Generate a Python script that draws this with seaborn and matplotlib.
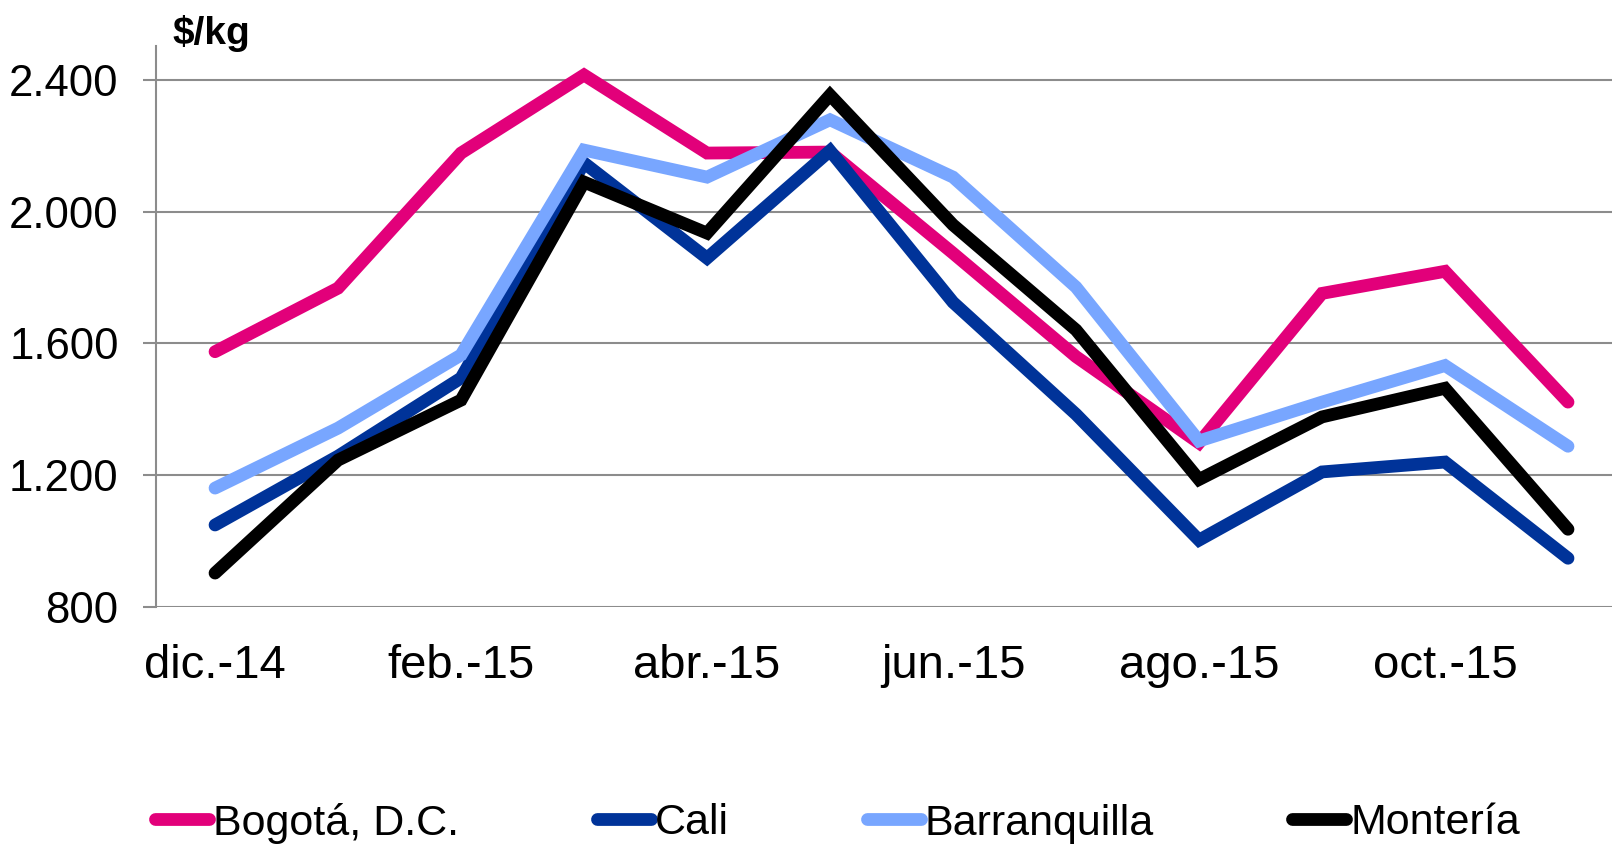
import seaborn as sns
import matplotlib.pyplot as plt
import pandas as pd

# datos ($/kg)
meses = ['dic.-14', 'ene.-15', 'feb.-15', 'mar.-15', 'abr.-15', 'may.-15',
         'jun.-15', 'jul.-15', 'ago.-15', 'sep.-15', 'oct.-15', 'nov.-15']
bogota = [1575, 1768, 2178, 2415, 2178, 2181, 1874, 1560, 1298, 1752, 1819, 1422]
cali = [1049, 1258, 1495, 2148, 1859, 2185, 1725, 1385, 1003, 1210, 1240, 948]
barranquilla = [1161, 1343, 1565, 2187, 2105, 2279, 2105, 1771, 1304, 1422, 1533, 1288]
monteria = [903, 1246, 1428, 2090, 1935, 2354, 1960, 1641, 1187, 1377, 1464, 1036]

ciudades = ['Bogotá, D.C.', 'Cali', 'Barranquilla', 'Montería']
colores = ['#E2007A', '#003399', '#78A6FF', '#000000']

xtick_pos = [0, 2, 4, 6, 8, 10]
xtick_labels = ['dic.-14', 'feb.-15', 'abr.-15', 'jun.-15', 'ago.-15', 'oct.-15']
ytick_vals = [800, 1200, 1600, 2000, 2400]
ytick_labels = ['800', '1.200', '1.600', '2.000', '2.400']

df = pd.DataFrame({
    'mes': meses * 4,
    'idx': list(range(len(meses))) * 4,
    'precio': bogota + cali + barranquilla + monteria,
    'ciudad': sum([[c] * len(meses) for c in ciudades], []),
})

sns.set_style('white')
plt.rcParams['font.family'] = ['Liberation Sans', 'DejaVu Sans']
plt.rcParams['text.color'] = 'black'
plt.rcParams['xtick.color'] = 'black'
plt.rcParams['ytick.color'] = 'black'

fig = plt.figure(figsize=(16.12, 8.44), dpi=100)
W, H = 1612, 844
ax = fig.add_axes([156 / W, 1 - 607 / H, 1473.5 / W, (607 - 46) / H])

sns.lineplot(data=df, x='idx', y='precio', hue='ciudad', hue_order=ciudades,
             palette=dict(zip(ciudades, colores)), ax=ax)
for ln in ax.lines:
    ln.set_linewidth(9.2)
    ln.set_solid_capstyle('round')
    ln.set_solid_joinstyle('miter')

ax.set_xlim(-0.48, 11.5)
ax.set_ylim(800, 2503)
ax.set_yticks(ytick_vals)
ax.set_yticklabels(ytick_labels)
ax.set_xticks(xtick_pos)
ax.set_xticklabels(xtick_labels)
ax.set_xlabel('')
ax.set_ylabel('')
ax.grid(axis='y', color='#8c8c8c', linewidth=1.5)
ax.set_axisbelow(True)
for s in ['top', 'right', 'bottom']:
    ax.spines[s].set_visible(False)
ax.spines['left'].set_color('#8c8c8c')
ax.spines['left'].set_linewidth(1.5)
ax.tick_params(axis='y', length=9.4, width=1.5, color='#8c8c8c', pad=17.5,
               labelsize=31.5, left=True, labelcolor='black')
ax.tick_params(axis='x', length=0, pad=27, labelsize=34, labelcolor='black')

fig.text(172 / W, 1 - 33 / H, '$/kg', fontsize=28, fontweight='bold', va='center',
         color='black')

handles, labels = ax.get_legend_handles_labels()
ax.get_legend().remove()
for h in handles:
    h.set_linewidth(9.2)
    h.set_solid_capstyle('round')
leg = fig.legend(handles, labels, loc='center left', bbox_to_anchor=(155 / W, 1 - 823 / H),
                 ncol=4, frameon=False, fontsize=31, handlelength=1.25, handletextpad=0.1,
                 columnspacing=3.2, borderpad=0, borderaxespad=0)
for t in leg.get_texts():
    t.set_color('black')

fig.savefig('out.png', dpi=100)
